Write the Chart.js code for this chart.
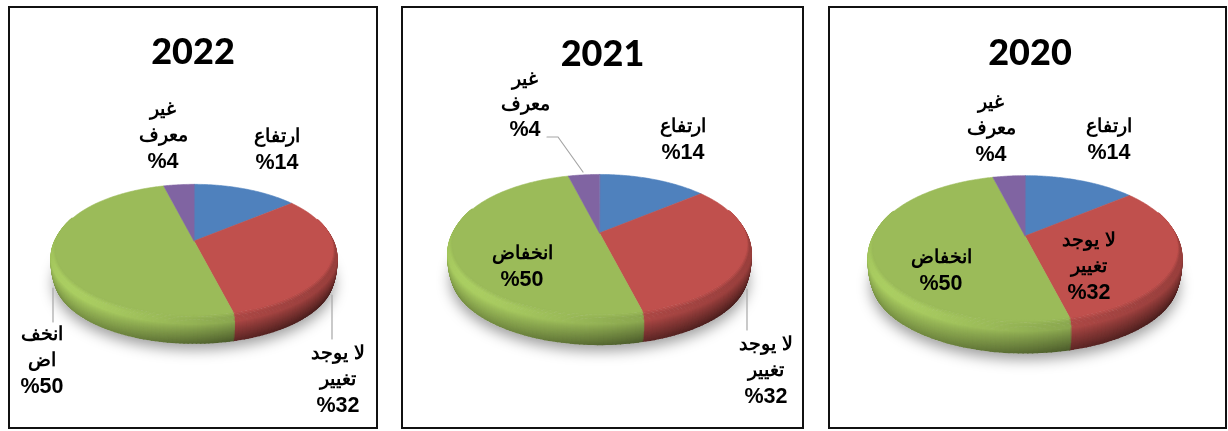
<!DOCTYPE html>
<html><head><meta charset="utf-8">
<script src="https://cdn.jsdelivr.net/npm/chart.js@4"></script>
<style>
html,body{margin:0;padding:0;background:#fff;width:1228px;height:431px;overflow:hidden}
.p{position:absolute;box-sizing:border-box;background:#fff}
.f{position:absolute;box-sizing:border-box;border:2px solid #111;pointer-events:none}
canvas{display:block}
</style></head><body>
<script>
const categories = ['ارتفاع','لا يوجد تغيير','انخفاض','غير معرف'];
const values2022 = [14,32,50,4];
const values2021 = [14,32,50,4];
const values2020 = [14,32,50,4];
const colors = ['#4F81BD','#C0504D','#9BBB59','#8064A2'];
const lines2022 = [['ارتفاع'],['لا يوجد','تغيير'],['انخف','اض'],['غير','معرف']];
const lines2021 = [['ارتفاع'],['لا يوجد','تغيير'],['انخفاض'],['غير','معرف']];
const lines2020 = [['ارتفاع'],['لا يوجد','تغيير'],['انخفاض'],['غير','معرف']];

const layouts = [
 {title:'2022',values:values2022,lines:lines2022,box:[8,6,370,423],cx:194,y0:241,R:141.5,S:66,p:.13,depth:28,titleTop:25,padL:0,
  lab:[[277,137,26],[338,354,26],[42,335,26],[163,110,26]],
  leaders:[[[53,288],[53,322]],[[332,295],[332,339]]]},
 {title:'2021',values:values2021,lines:lines2021,box:[401,6,403,423],cx:599.5,y0:233,R:149.5,S:70,p:.16,depth:30,titleTop:27,padL:0,
  lab:[[683,127,26],[766,345,26],[522,254,26],[525,80,25]],
  leaders:[[[547,137],[558,137],[583,172]],[[747,289],[747,330]]]},
 {title:'2020',values:values2020,lines:lines2020,box:[828,6,399,423],cx:1025,y0:236,R:154.5,S:72.5,p:.165,depth:32,titleTop:26,padL:5,
  lab:[[1109,127,26],[1089,241,26],[941,258,26],[991,103,26]],
  leaders:[]}
];

function hex(c){return [1,3,5].map(i=>parseInt(c.substr(i,2),16));}
function shade(c,b){const r=hex(c).map(v=>Math.max(0,Math.min(255,Math.round(v*b))));return `rgb(${r[0]},${r[1]},${r[2]})`;}
function radial(t){return t<.3?.97+.03*Math.sin(t/.3*Math.PI/2):1-.025*Math.pow((t-.3)/.7,2.5);}

const pie3d = {
 id:'pie3d',
 beforeDatasetsDraw(chart,args,o){
  const L=o.layout, ctx=chart.ctx, ox=L.box[0], oy=L.box[1];
  const P=(a,d,m)=>{const u=Math.cos(a),v=Math.sin(a),w=1-L.p*v;
    return [L.cx-ox+m*L.R*u/w, L.y0-oy+m*L.S*v/w+d];};
  const arcs=chart.getDatasetMeta(0).data;
  const step=Math.PI/120;
  // ground shadow
  ctx.save();
  ctx.shadowColor='rgba(0,0,0,.38)';ctx.shadowBlur=14;ctx.shadowOffsetY=6;
  ctx.fillStyle='#d5d5d5';ctx.beginPath();
  for(let a=0;a<Math.PI*2;a+=step){const q=P(a,L.depth,.985);ctx.lineTo(q[0],q[1]);}
  ctx.closePath();ctx.fill();ctx.restore();
  // side wall
  ctx.lineWidth=1.8;ctx.lineCap='round';
  for(let d=L.depth;d>=0;d-=1){
   const t=d/L.depth, m=radial(t);
   arcs.forEach((arc,i)=>{
    for(let a=arc.startAngle;a<arc.endAngle;a+=step){
     const b=Math.min(a+step,arc.endAngle);
     if(Math.sin(a)<-.35)continue;
     const c0=.5+.5*Math.cos(a-2.5), s=c0*c0*c0;
     const hi=.8+.3*s, end=.36+.4*s;
     let k;
     if(t<.1)k=1+(hi-1)*(t/.1);
     else if(t<.25)k=hi;
     else k=hi+(end-hi)*Math.pow((t-.25)/.75,.85);
     ctx.strokeStyle=shade(colors[i],k);
     const q1=P(a,d,m),q2=P(b,d,m);
     ctx.beginPath();ctx.moveTo(q1[0],q1[1]);ctx.lineTo(q2[0],q2[1]);ctx.stroke();
    }
   });
  }
  // top face, from the library's own arc angles
  const m0=radial(0);
  arcs.forEach((arc,i)=>{
   ctx.fillStyle=colors[i];ctx.strokeStyle=colors[i];ctx.lineWidth=.6;
   ctx.beginPath();
   ctx.moveTo(L.cx-ox,L.y0-oy);
   for(let a=arc.startAngle;a<arc.endAngle;a+=step/2){const q=P(a,0,m0);ctx.lineTo(q[0],q[1]);}
   const e=P(arc.endAngle,0,m0);ctx.lineTo(e[0],e[1]);
   ctx.closePath();ctx.fill();ctx.stroke();
  });
  return false;
 },
 afterDraw(chart,args,o){
  const L=o.layout, ctx=chart.ctx, ox=L.box[0], oy=L.box[1];
  ctx.save();
  ctx.strokeStyle='#a6a6a6';ctx.lineWidth=1.2;
  L.leaders.forEach(l=>{ctx.beginPath();l.forEach((q,j)=>j?ctx.lineTo(q[0]-ox,q[1]-oy):ctx.moveTo(q[0]-ox,q[1]-oy));ctx.stroke();});
  ctx.fillStyle='#000';ctx.textAlign='center';ctx.textBaseline='middle';
  L.lab.forEach((p,i)=>{
   const ls=L.lines[i];
   ctx.font='bold 18.5px "Liberation Sans", Arial, sans-serif';
   ls.forEach((s,j)=>ctx.fillText(s,p[0]-ox,p[1]-oy+j*p[2]));
   ctx.font='bold 21.5px "Liberation Sans", Arial, sans-serif';
   ctx.fillText('%'+L.values[i],p[0]-ox,p[1]-oy+ls.length*p[2]);
  });
  ctx.restore();
 }
};

layouts.forEach(L=>{
 const [x,y,w,h]=L.box;
 const div=document.createElement('div');div.className='p';
 div.style.cssText=`left:${x}px;top:${y}px;width:${w}px;height:${h}px`;
 const cv=document.createElement('canvas');cv.width=w;cv.height=h;cv.style.width=w+'px';cv.style.height=h+'px';
 div.appendChild(cv);document.body.appendChild(div);
 const f=document.createElement('div');f.className='f';
 f.style.cssText=`left:${x}px;top:${y}px;width:${w}px;height:${h}px`;
 document.body.appendChild(f);
 new Chart(cv,{
  type:'pie',
  data:{labels:categories,datasets:[{data:L.values,backgroundColor:colors,borderWidth:0}]},
  plugins:[pie3d],
  options:{
   responsive:false,animation:false,events:[],
   layout:{padding:{left:L.padL}},
   plugins:{
    legend:{display:false},tooltip:{enabled:false},
    title:{display:true,text:L.title,color:'#000',font:{family:'Lato',weight:900,size:36},padding:{top:L.titleTop,bottom:0}},
    pie3d:{layout:L}
   }
  }
 });
});
</script>
</body></html>
